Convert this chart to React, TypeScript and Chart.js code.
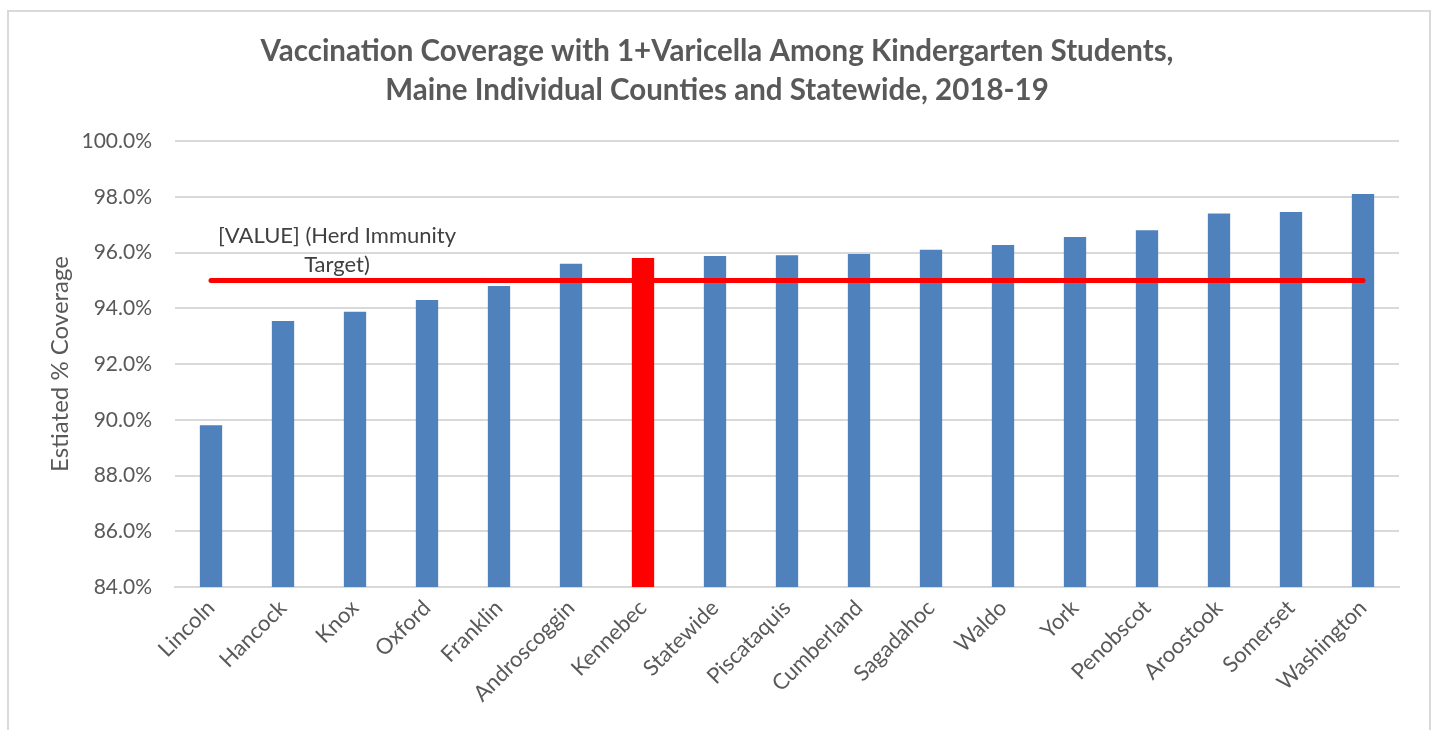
import React, { useEffect, useRef } from "react";
import { Chart, registerables } from "chart.js";

Chart.register(...registerables);

const categories = [
  "Lincoln", "Hancock", "Knox", "Oxford", "Franklin", "Androscoggin", "Kennebec",
  "Statewide", "Piscataquis", "Cumberland", "Sagadahoc", "Waldo", "York",
  "Penobscot", "Aroostook", "Somerset", "Washington",
];
const coverage = [
  89.8, 93.54, 93.87, 94.3, 94.8, 95.6, 95.8, 95.87, 95.9, 95.95, 96.1, 96.27,
  96.56, 96.8, 97.4, 97.45, 98.1,
];
const highlighted = ["Kennebec"];
const herdTarget = categories.map(() => 95);
const titleLines = [
  "Vaccination Coverage with 1+Varicella Among Kindergarten Students,",
  "Maine Individual Counties and Statewide, 2018-19",
];
const targetLabelLines = ["[VALUE] (Herd Immunity", "Target)"];
const yTitle = "Estiated % Coverage";

const FONT = "Lato, 'Open Sans', sans-serif";
const TEXT = "#595959";

export default function App() {
  const ref = useRef<HTMLCanvasElement | null>(null);
  useEffect(() => {
    if (!ref.current) return;
    const overlay = {
      id: "overlay",
      afterDraw(chart: any) {
        const ctx = chart.ctx;
        ctx.save();
        ctx.fillStyle = TEXT;
        ctx.textAlign = "center";
        ctx.textBaseline = "middle";
        ctx.font = `bold 29.5px ${FONT}`;
        const cx = 717;
        ctx.fillText(titleLines[0], cx, 51);
        ctx.fillText(titleLines[1], cx, 90);
        const x = chart.scales.x;
        const y = chart.scales.y;
        const lx = (x.getPixelForValue(1) + x.getPixelForValue(2)) / 2 + 18;
        const ly = y.getPixelForValue(herdTarget[0]);
        ctx.font = `22px ${FONT}`;
        ctx.fillStyle = "#404040";
        ctx.fillText(targetLabelLines[0], lx, ly - 44);
        ctx.fillText(targetLabelLines[1], lx, ly - 15);
        ctx.restore();
      },
    };
    const chart = new Chart(ref.current, {
      type: "bar",
      data: {
        labels: categories,
        datasets: [
          {
            type: "line",
            label: "Herd Immunity Target",
            data: herdTarget,
            borderColor: "#ff0000",
            borderWidth: 5,
            borderCapStyle: "round",
            pointRadius: 0,
            order: 0,
          } as any,
          {
            type: "bar",
            label: "Coverage",
            data: coverage,
            backgroundColor: categories.map((c) =>
              highlighted.includes(c) ? "#ff0000" : "#4f81bd"
            ),
            barPercentage: 0.31,
            categoryPercentage: 1,
            order: 1,
          },
        ],
      },
      options: {
        animation: false,
        responsive: false,
        layout: { padding: { top: 141, left: 0, right: 35, bottom: 0 } },
        plugins: { legend: { display: false }, tooltip: { enabled: false }, title: { display: false } },
        scales: {
          x: {
            grid: { display: false, drawTicks: false },
            border: { display: true, color: "#d9d9d9", width: 2 },
            ticks: {
              color: TEXT,
              font: { family: FONT, size: 22 },
              minRotation: 45,
              maxRotation: 45,
              autoSkip: false,
              padding: 8,
            },
            afterFit: (s: any) => {
              s.height = 143;
            },
          },
          y: {
            min: 84,
            max: 100,
            grid: { color: "#d9d9d9", lineWidth: 2, drawTicks: false },
            border: { display: false },
            ticks: {
              stepSize: 2,
              color: TEXT,
              font: { family: FONT, size: 21 },
              padding: 23,
              callback: (v: any) => Number(v).toFixed(1) + "%",
            },
            title: {
              display: true,
              text: yTitle,
              color: TEXT,
              font: { family: FONT, size: 24 },
              padding: { top: 46, bottom: 0 },
            },
            afterFit: (s: any) => {
              s.width = 175;
            },
          },
        },
      },
      plugins: [overlay],
    });
    return () => chart.destroy();
  }, []);
  return (
    <div style={{ position: "fixed", left: 0, top: 0, width: 1434, height: 730, background: "#fff" }}>
      <div
        style={{
          position: "absolute",
          left: 7,
          top: 10,
          width: 1420,
          height: 740,
          border: "2px solid #d9d9d9",
        }}
      />
      <canvas ref={ref} width={1434} height={730} style={{ position: "absolute", left: 0, top: 0 }} />
    </div>
  );
}
